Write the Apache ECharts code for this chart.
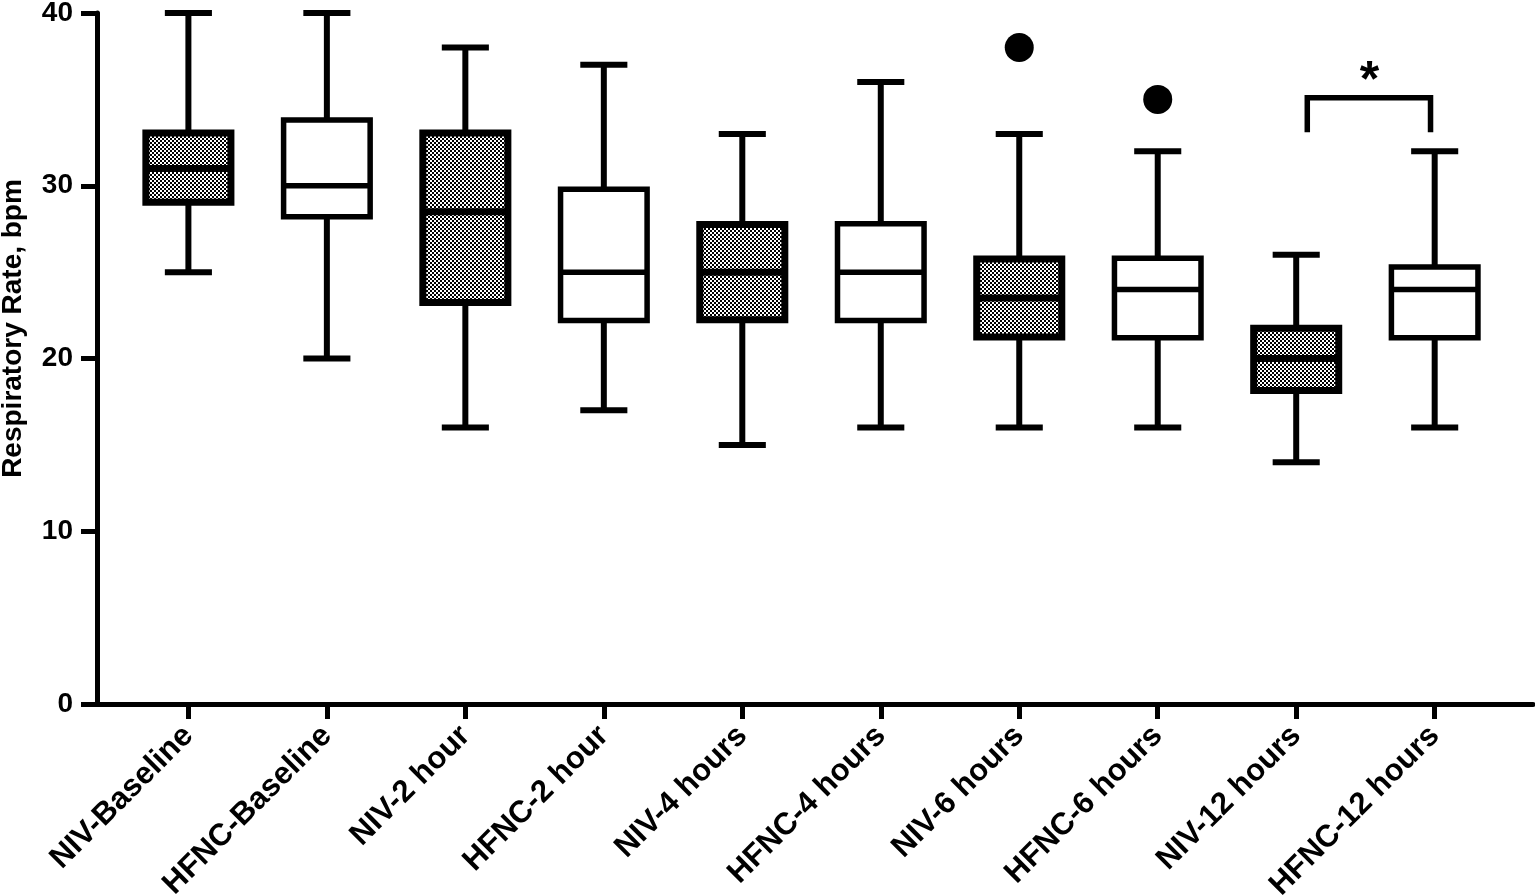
<!DOCTYPE html>
<html>
<head>
<meta charset="utf-8">
<title>Respiratory Rate</title>
<script src="https://cdn.jsdelivr.net/npm/echarts@6/dist/echarts.min.js"></script>
<style>
  html, body { margin: 0; padding: 0; background: #fff; }
  #chart { width: 1535px; height: 895px; }
</style>
</head>
<body>
<div id="chart"></div>
<script>
// groups along the x axis
const categories = ['NIV-Baseline', 'HFNC-Baseline', 'NIV-2 hour', 'HFNC-2 hour', 'NIV-4 hours',
    'HFNC-4 hours', 'NIV-6 hours', 'HFNC-6 hours', 'NIV-12 hours', 'HFNC-12 hours'];

// box plot values
const mins    = [25,   20,   16,   17,   15,   16,   16,   16,   14,   16];
const q1s     = [29,   28.2, 23.2, 22.2, 22.2, 22.2, 21.2, 21.2, 18.1, 21.2];
const medians = [31,   30,   28.5, 25,   25,   25,   23.5, 24,   20,   24];
const q3s     = [33.1, 33.8, 33.1, 29.8, 27.8, 27.8, 25.8, 25.8, 21.8, 25.3];
const maxs    = [40,   40,   38,   37,   33,   36,   33,   32,   26,   32];

// outliers [group index, value]
const outliers = [[6, 38], [7, 35]];

// significance bracket between NIV-12 hours and HFNC-12 hours
const bracketX = [8.08, 8.97];
const bracketY = [33.1, 35.1];
const starPos = [8.53, 36.0];

const yTicks = [0, 10, 20, 30, 40];
const xTicks = categories.map((c, i) => i);

// small black/white checker used to fill the NIV boxes
function makePattern() {
    const c = document.createElement('canvas');
    c.width = 4;
    c.height = 4;
    const g = c.getContext('2d');
    g.fillStyle = '#fff';
    g.fillRect(0, 0, 4, 4);
    g.fillStyle = '#000';
    g.fillRect(0, 0, 2, 2);
    g.fillRect(2, 2, 2, 2);
    return c;
}
const pattern = { image: makePattern(), repeat: 'repeat' };

const boxData = categories.map((name, i) => [i, mins[i], q1s[i], medians[i], q3s[i], maxs[i]]);

function renderBox(params, api) {
    const i = api.value(0);
    const lo = api.coord([i, api.value(1)]);
    const q1 = api.coord([i, api.value(2)]);
    const med = api.coord([i, api.value(3)]);
    const q3 = api.coord([i, api.value(4)]);
    const hi = api.coord([i, api.value(5)]);
    const band = api.size([1, 0])[0];
    const x = lo[0];
    const bw = band * 0.625;
    const cw = band * 0.34;
    const filled = categories[params.dataIndex].indexOf('NIV') === 0;
    const lw = 5.5;
    const stroke = { stroke: '#000', lineWidth: 6 };

    const children = [
        { type: 'line', shape: { x1: x, y1: hi[1], x2: x, y2: q3[1] }, style: stroke },
        { type: 'line', shape: { x1: x, y1: q1[1], x2: x, y2: lo[1] }, style: stroke },
        { type: 'line', shape: { x1: x - cw / 2, y1: hi[1], x2: x + cw / 2, y2: hi[1] }, style: stroke },
        { type: 'line', shape: { x1: x - cw / 2, y1: lo[1], x2: x + cw / 2, y2: lo[1] }, style: stroke }
    ];
    if (filled) {
        const ox = x - bw / 2 - lw / 2, oy = q3[1] - lw / 2;
        const ow = bw + lw, oh = q1[1] - q3[1] + lw;
        children.push({ type: 'rect', shape: { x: ox, y: oy, width: ow, height: oh }, style: { fill: '#000' } });
        children.push({ type: 'rect', shape: { x: ox + 7, y: oy + 7, width: ow - 14, height: oh - 14 }, style: { fill: pattern } });
        children.push({ type: 'line', shape: { x1: x - bw / 2, y1: med[1], x2: x + bw / 2, y2: med[1] },
            style: { stroke: '#000', lineWidth: 7 } });
    } else {
        children.push({ type: 'rect', shape: { x: x - bw / 2, y: q3[1], width: bw, height: q1[1] - q3[1] },
            style: { fill: '#fff', stroke: '#000', lineWidth: lw } });
        children.push({ type: 'line', shape: { x1: x - bw / 2, y1: med[1], x2: x + bw / 2, y2: med[1] },
            style: { stroke: '#000', lineWidth: lw } });
    }
    return { type: 'group', children: children };
}

function renderBracket(params, api) {
    const a = api.coord([api.value(0), api.value(1)]);
    const b = api.coord([api.value(0), api.value(3)]);
    const c = api.coord([api.value(2), api.value(3)]);
    const d = api.coord([api.value(2), api.value(1)]);
    const s = api.coord(starPos);
    return {
        type: 'group',
        children: [
            { type: 'polyline', shape: { points: [a, b, c, d] },
                style: { stroke: '#000', lineWidth: 5.5, fill: null, lineJoin: 'miter' } },
            { type: 'text', x: s[0], y: s[1],
                style: { text: '*', fontSize: 50, fontWeight: 'bold', fontFamily: 'Liberation Sans',
                    fill: '#000', align: 'center', verticalAlign: 'middle' } }
        ]
    };
}

const chart = echarts.init(document.getElementById('chart'));
const options = {
    animation: false,
    backgroundColor: '#fff',
    textStyle: { fontFamily: 'Liberation Sans' },
    grid: { left: 97, right: 2, top: 13, bottom: 191, containLabel: false, outerBoundsMode: 'none' },
    xAxis: {
        type: 'value',
        min: -0.66,
        max: 9.71,
        splitLine: { show: false },
        axisLine: { show: true, onZero: false, lineStyle: { color: '#000', width: 5 } },
        axisTick: { show: true, customValues: xTicks, length: 15, lineStyle: { color: '#000', width: 5 } },
        axisLabel: {
            customValues: xTicks,
            rotate: 45,
            margin: 27,
            color: '#000',
            fontSize: 31,
            fontWeight: 'bold',
            fontFamily: 'Liberation Sans',
            formatter: v => categories[Math.round(v)]
        }
    },
    yAxis: {
        type: 'value',
        min: 0,
        max: 40,
        interval: 10,
        name: 'Respiratory Rate, bpm',
        nameLocation: 'middle',
        nameGap: 70,
        nameTextStyle: { color: '#000', fontSize: 28, fontWeight: 'bold', fontFamily: 'Liberation Sans',
            padding: [0, 0, 0, 60] },
        splitLine: { show: false },
        axisLine: { show: true, onZero: false, lineStyle: { color: '#000', width: 5 } },
        axisTick: { show: true, length: 16, lineStyle: { color: '#000', width: 5 } },
        axisLabel: { color: '#000', fontSize: 28, fontWeight: 'bold', fontFamily: 'Liberation Sans', margin: 24,
            customValues: yTicks }
    },
    series: [
        {
            name: 'Respiratory Rate',
            type: 'custom',
            renderItem: renderBox,
            encode: { x: 0, y: [1, 2, 3, 4, 5] },
            data: boxData,
            clip: false,
            z: 2
        },
        {
            name: 'Outliers',
            type: 'scatter',
            symbol: 'circle',
            symbolSize: 29,
            itemStyle: { color: '#000', opacity: 1 },
            data: outliers,
            z: 3
        },
        {
            name: 'Significance',
            type: 'custom',
            renderItem: renderBracket,
            encode: { x: [0, 2], y: [1, 3] },
            data: [[bracketX[0], bracketY[0], bracketX[1], bracketY[1]]],
            clip: false,
            z: 3
        }
    ]
};

chart.setOption(options);
</script>
</body>
</html>
